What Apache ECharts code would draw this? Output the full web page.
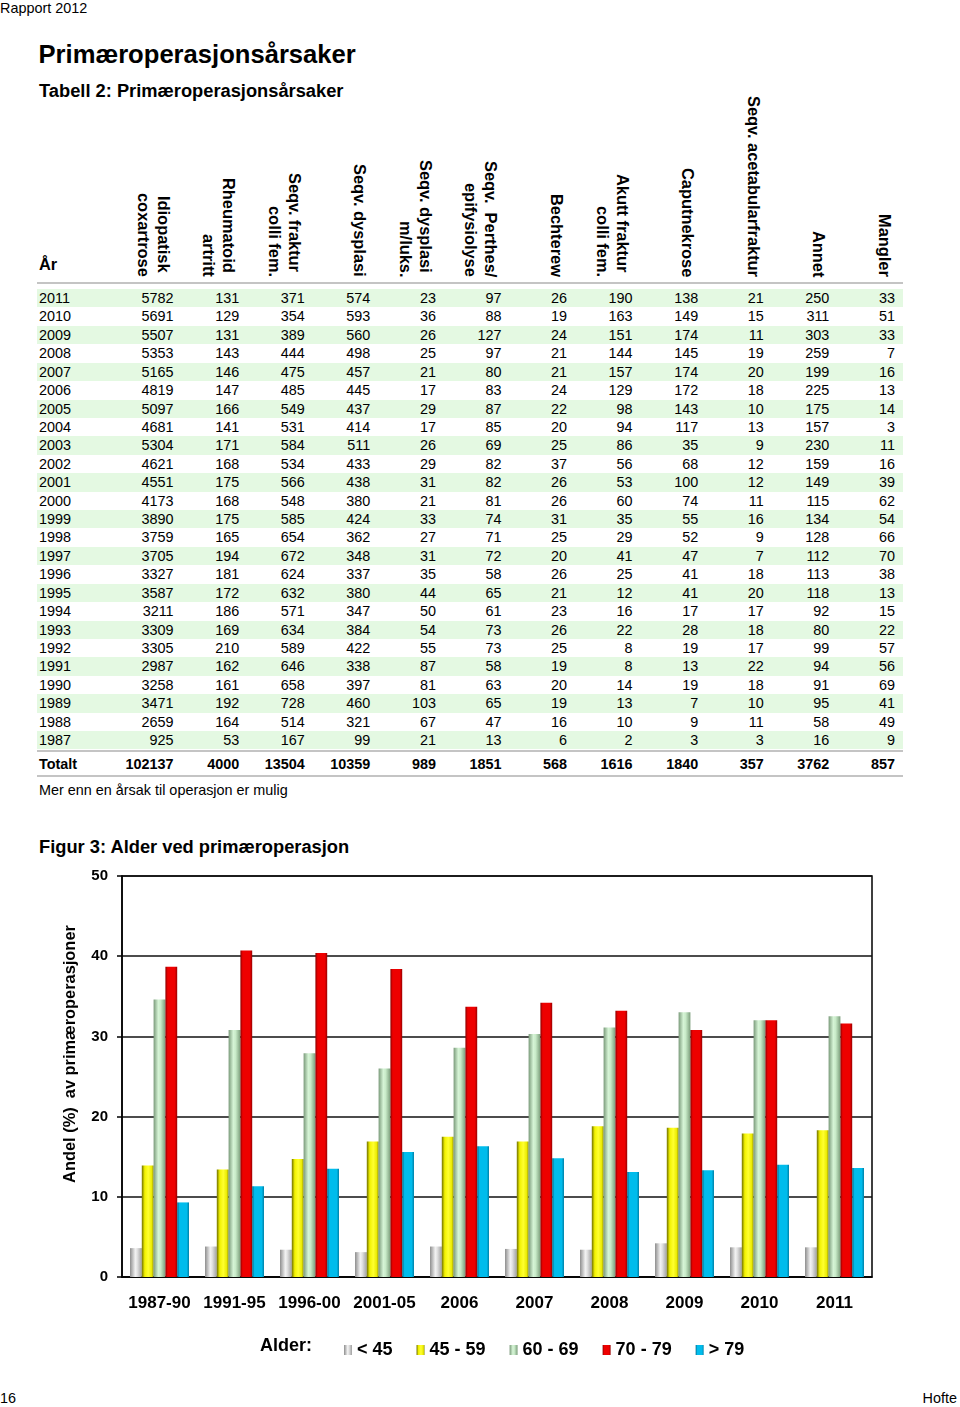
<!DOCTYPE html>
<html>
<head>
<meta charset="utf-8">
<script src="https://cdn.jsdelivr.net/npm/echarts@6/dist/echarts.min.js"></script>
<style>
  html, body { margin: 0; padding: 0; background: #fff; }
  body { width: 960px; height: 1407px; position: relative; overflow: hidden;
         font-family: "Liberation Sans", Arial, sans-serif; color: #000; }
  .abs { position: absolute; white-space: pre; }
  .hdr { position: absolute; writing-mode: vertical-rl; text-align: end; font-weight: bold;
         font-size: 16.4px; line-height: 20px; top: 80px; height: 197px; white-space: pre; }
  .row { position: absolute; left: 37px; width: 866px; }
  .hline { position: absolute; left: 37px; width: 866px; height: 2px; background: #c4c4c4; }
</style>
</head>
<body>
<div id="page"></div>
<div id="chart" style="position:absolute;left:0;top:860px;width:960px;height:520px;"></div>
<script>
// ---------- Table data ----------
const years = [2011,2010,2009,2008,2007,2006,2005,2004,2003,2002,2001,2000,1999,1998,1997,1996,1995,1994,1993,1992,1991,1990,1989,1988,1987];
const columnHeaders = [
  ["Idiopatisk ", "coxartrose"],
  ["Rheumatoid ", "artritt"],
  ["Seqv. fraktur ", "colli fem."],
  ["Seqv. dysplasi"],
  ["Seqv. dysplasi ", "m/luks."],
  ["Seqv.  Perthes/", "epifysiolyse"],
  ["Bechterew"],
  ["Akutt fraktur ", "colli fem."],
  ["Caputnekrose"],
  ["Seqv. acetabularfraktur"],
  ["Annet"],
  ["Mangler"]
];
const idiopatisk   = [5782,5691,5507,5353,5165,4819,5097,4681,5304,4621,4551,4173,3890,3759,3705,3327,3587,3211,3309,3305,2987,3258,3471,2659,925];
const rheumatoid   = [131,129,131,143,146,147,166,141,171,168,175,168,175,165,194,181,172,186,169,210,162,161,192,164,53];
const frakturColli = [371,354,389,444,475,485,549,531,584,534,566,548,585,654,672,624,632,571,634,589,646,658,728,514,167];
const dysplasi     = [574,593,560,498,457,445,437,414,511,433,438,380,424,362,348,337,380,347,384,422,338,397,460,321,99];
const dysplasiLuks = [23,36,26,25,21,17,29,17,26,29,31,21,33,27,31,35,44,50,54,55,87,81,103,67,21];
const perthes      = [97,88,127,97,80,83,87,85,69,82,82,81,74,71,72,58,65,61,73,73,58,63,65,47,13];
const bechterew    = [26,19,24,21,21,24,22,20,25,37,26,26,31,25,20,26,21,23,26,25,19,20,19,16,6];
const akuttFraktur = [190,163,151,144,157,129,98,94,86,56,53,60,35,29,41,25,12,16,22,8,8,14,13,10,2];
const caputnekrose = [138,149,174,145,174,172,143,117,35,68,100,74,55,52,47,41,41,17,28,19,13,19,7,9,3];
const acetabular   = [21,15,11,19,20,18,10,13,9,12,12,11,16,9,7,18,20,17,18,17,22,18,10,11,3];
const annet        = [250,311,303,259,199,225,175,157,230,159,149,115,134,128,112,113,118,92,80,99,94,91,95,58,16];
const mangler      = [33,51,33,7,16,13,14,3,11,16,39,62,54,66,70,38,13,15,22,57,56,69,41,49,9];
const totals       = [102137,4000,13504,10359,989,1851,568,1616,1840,357,3762,857];

// ---------- Chart data ----------
const periods = ['1987-90','1991-95','1996-00','2001-05','2006','2007','2008','2009','2010','2011'];
const ageLabels = ['< 45','45 - 59','60 - 69','70 - 79','> 79'];
const ageUnder45 = [3.6, 3.8, 3.4, 3.1, 3.8, 3.5, 3.4, 4.2, 3.7, 3.7];
const age45to59  = [13.9, 13.4, 14.7, 16.9, 17.5, 16.9, 18.8, 18.6, 17.9, 18.3];
const age60to69  = [34.6, 30.8, 27.9, 26.0, 28.6, 30.3, 31.1, 33.0, 32.0, 32.5];
const age70to79  = [38.7, 40.7, 40.4, 38.4, 33.7, 34.2, 33.2, 30.8, 32.0, 31.6];
const ageOver79  = [9.3, 11.3, 13.5, 15.6, 16.3, 14.8, 13.1, 13.3, 14.0, 13.6];
const yTicks = [0, 10, 20, 30, 40, 50];

// ---------- Page texts / table ----------
const page = document.getElementById('page');
function addText(txt, css) {
  const d = document.createElement('div');
  d.className = 'abs';
  d.textContent = txt;
  Object.assign(d.style, css);
  page.appendChild(d);
  return d;
}
addText('Rapport 2012', {left: '0px', top: '0px', fontSize: '14.4px', lineHeight: '17px'});
addText('Primæroperasjonsårsaker', {left: '38.5px', top: '39px', fontSize: '25.6px', fontWeight: 'bold', lineHeight: '30px'});
addText('Tabell 2: Primæroperasjonsårsaker', {left: '39px', top: '80px', fontSize: '18.3px', fontWeight: 'bold', lineHeight: '22px'});
addText('År', {left: '39px', top: '254px', fontSize: '16.4px', fontWeight: 'bold', lineHeight: '20px'});

const colData = [idiopatisk, rheumatoid, frakturColli, dysplasi, dysplasiLuks, perthes, bechterew,
                 akuttFraktur, caputnekrose, acetabular, annet, mangler];
const firstColW = 79, colW = 65.58, tableLeft = 37, rowTop = 289, rowH = 18.42;
const colEdge = i => tableLeft + firstColW + (i + 1) * colW - 8; // right edge of numbers

columnHeaders.forEach((lines, i) => {
  const d = document.createElement('div');
  d.className = 'hdr';
  d.textContent = lines.join('\n');
  d.style.right = (960 - colEdge(i)) + 'px';
  page.appendChild(d);
});

const hl = y => { const d = document.createElement('div'); d.className = 'hline'; d.style.top = y + 'px'; page.appendChild(d); };
hl(282);

years.forEach((yr, r) => {
  const top = rowTop + r * rowH;
  if (r % 2 === 0) {
    const bg = document.createElement('div');
    bg.className = 'row';
    Object.assign(bg.style, {top: top + 'px', height: rowH + 'px', background: '#e4f9e2'});
    page.appendChild(bg);
  }
  addText(String(yr), {left: '39px', top: top + 'px', fontSize: '14.4px', lineHeight: rowH + 'px'});
  colData.forEach((arr, i) => {
    const d = addText(String(arr[r]), {top: top + 'px', fontSize: '14.4px', lineHeight: rowH + 'px', textAlign: 'right', width: '60px'});
    d.style.left = (colEdge(i) - 60) + 'px';
  });
});

hl(749.5);
addText('Totalt', {left: '39px', top: '753px', fontSize: '14.4px', fontWeight: 'bold', lineHeight: '22px'});
totals.forEach((t, i) => {
  const d = addText(String(t), {top: '753px', fontSize: '14.4px', fontWeight: 'bold', lineHeight: '22px', textAlign: 'right', width: '70px'});
  d.style.left = (colEdge(i) - 70) + 'px';
});
hl(775);
addText('Mer enn en årsak til operasjon er mulig', {left: '39px', top: '781px', fontSize: '14.4px', lineHeight: '18px'});
addText('Figur 3: Alder ved primæroperasjon', {left: '39px', top: '836px', fontSize: '18.3px', fontWeight: 'bold', lineHeight: '22px'});
addText('16', {left: '0px', top: '1390px', fontSize: '14.4px', lineHeight: '17px'});
addText('Hofte', {right: '3px', top: '1390px', fontSize: '14.4px', lineHeight: '17px'});

// ---------- Chart ----------
const FONT = '"Liberation Sans", Arial, sans-serif';
function grad(stops) {
  return new echarts.graphic.LinearGradient(0, 0, 1, 0, stops.map(s => ({offset: s[0], color: s[1]})));
}
const colors = [
  grad([[0, '#8e8e8e'], [0.45, '#f2f2f2'], [0.6, '#e4e4e4'], [1, '#a0a0a0']]),
  grad([[0, '#6e6e00'], [0.25, '#f2f200'], [0.55, '#ffff30'], [0.85, '#eaea00'], [1, '#8a8a00']]),
  grad([[0, '#7a9a7a'], [0.4, '#d6f4d6'], [0.6, '#c8eac8'], [1, '#7b9d7b']]),
  grad([[0, '#8c0000'], [0.2, '#ee0000'], [0.8, '#ee0000'], [1, '#960000']]),
  grad([[0, '#00688a'], [0.2, '#00bcec'], [0.8, '#00bcec'], [1, '#0080a6']])
];
const seriesData = [ageUnder45, age45to59, age60to69, age70to79, ageOver79];

const chart = echarts.init(document.getElementById('chart'), null, {renderer: 'canvas'});
chart.setOption({
  animation: false,
  grid: {left: 122, top: 16, width: 750, height: 401, show: true, borderColor: '#000', borderWidth: 1.5, backgroundColor: 'transparent'},
  xAxis: {
    type: 'category',
    data: periods,
    axisLine: {lineStyle: {color: '#000', width: 1.5}},
    axisTick: {length: 6, lineStyle: {color: '#000', width: 1.5}},
    axisLabel: {color: '#000', fontFamily: FONT, fontWeight: 'bold', fontSize: 17, margin: 18, interval: 0}
  },
  yAxis: {
    type: 'value', min: yTicks[0], max: yTicks[yTicks.length - 1], interval: 10,
    axisLine: {show: true, lineStyle: {color: '#000', width: 1.5}},
    axisTick: {show: true, length: 5, lineStyle: {color: '#000', width: 1.5}},
    splitLine: {lineStyle: {color: '#111', width: 1.5}},
    axisLabel: {color: '#000', fontFamily: FONT, fontWeight: 'bold', fontSize: 15, margin: 14}
  },
  legend: {
    left: 339, top: 476,
    itemWidth: 8, itemHeight: 10, itemGap: 24,
    icon: 'rect',
    data: ageLabels,
    textStyle: {color: '#000', fontFamily: FONT, fontWeight: 'bold', fontSize: 18}
  },
  graphic: [
    {
      type: 'text', left: 260, top: 477,
      style: {text: 'Alder:', fill: '#000', font: 'bold 18px ' + FONT}
    },
    {
      type: 'text', x: 70, y: 194, rotation: Math.PI / 2,
      style: {text: 'Andel (%)  av primæroperasjoner', fill: '#000', font: 'bold 16.4px ' + FONT,
              align: 'center', verticalAlign: 'middle'}
    }
  ],
  series: seriesData.map((d, i) => ({
    type: 'bar',
    name: ageLabels[i],
    data: d,
    barWidth: 11.8,
    barGap: '0%',
    itemStyle: {color: colors[i]}
  }))
});
</script>
</body>
</html>
